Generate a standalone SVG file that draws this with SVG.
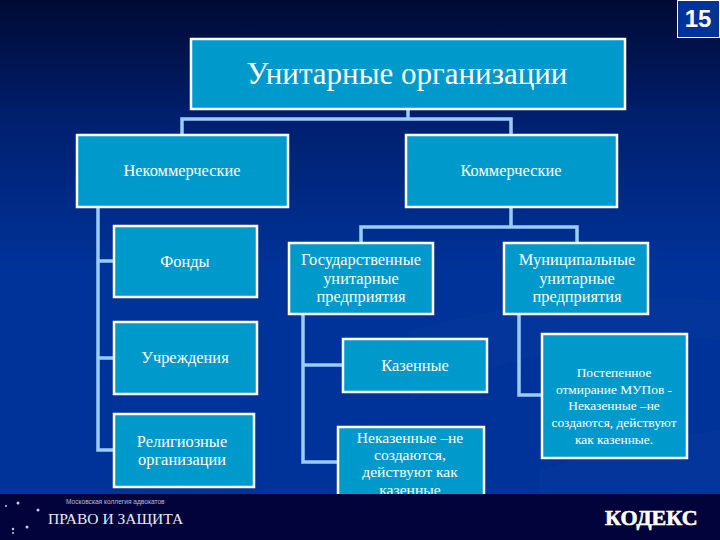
<svg xmlns="http://www.w3.org/2000/svg" width="720" height="540" viewBox="0 0 720 540">
<style>
.box{fill:#0099cc;stroke:#fff;stroke-width:2.5}
.t{font-family:"Liberation Serif","Times New Roman",serif;fill:#fff;text-anchor:middle;font-size:16.4px}
.s{font-size:15.6px}
.xs{font-size:13.4px}
.c{fill:none;stroke:#99ccff;stroke-width:3.5}
.star{fill:#c8cce8}
</style>
<defs>
<linearGradient id="bg" x1="0" y1="0" x2="0" y2="1">
<stop offset="0" stop-color="#000a33"/>
<stop offset="0.22" stop-color="#001f6e"/>
<stop offset="0.5" stop-color="#003399"/>
<stop offset="1" stop-color="#003399"/>
</linearGradient>
</defs>
<rect id="background" width="720" height="540" fill="url(#bg)"/>
<path d="M410 330Q560 290 720 300V340Q560 330 410 400Z" fill="#0a3a9e" opacity="0.3"/>
<path d="M540 470Q640 440 720 430V494H540Z" fill="#0a3a9e" opacity="0.3"/>
<g id="connectors">
<path class="c" d="M408 109V119M182 135V119H511V135"/>
<path class="c" d="M98 207V450H114M98 261H114M98 358H114"/>
<path class="c" d="M511 207V227M361 243V227H577V243"/>
<path class="c" d="M303 314V462H338M303 365H343"/>
<path class="c" d="M519 314V395H542"/>
</g>
<g id="n-top"><rect class="box" x="191" y="39" width="434" height="70"/><text class="t" x="407" y="84" style="font-size:31px">Унитарные организации</text></g>
<g id="n-nonprofit"><rect class="box" x="77" y="135" width="211" height="72"/><text class="t" x="182" y="176">Некоммерческие</text></g>
<g id="n-commercial"><rect class="box" x="406" y="135" width="211" height="72"/><text class="t" x="511" y="176">Коммерческие</text></g>
<g id="n-funds"><rect class="box" x="114" y="226" width="143" height="71"/><text class="t" x="185" y="267">Фонды</text></g>
<g id="n-institutions"><rect class="box" x="114" y="322" width="143" height="72"/><text class="t" x="185" y="363">Учреждения</text></g>
<g id="n-religious"><rect class="box" x="114" y="414" width="140" height="73"/><text class="t" x="182" y="447">Религиозные</text><text class="t" x="182" y="465">организации</text></g>
<g id="n-state"><rect class="box" x="289" y="243" width="144" height="71"/><text class="t" x="361" y="265">Государственные</text><text class="t" x="361" y="284">унитарные</text><text class="t" x="361" y="302">предприятия</text></g>
<g id="n-municipal"><rect class="box" x="504" y="243" width="144" height="71"/><text class="t" x="577" y="265">Муниципальные</text><text class="t" x="577" y="284">унитарные</text><text class="t" x="577" y="302">предприятия</text></g>
<g id="n-treasury"><rect class="box" x="343" y="339" width="144" height="53"/><text class="t" x="415" y="371">Казенные</text></g>
<g id="n-nontreasury"><rect class="box" x="338" y="427" width="146" height="80"/><text class="t s" x="410" y="443">Неказенные –не</text><text class="t s" x="410" y="460">создаются,</text><text class="t s" x="410" y="477">действуют как</text><text class="t s" x="410" y="495">казенные</text></g>
<g id="n-fading"><rect class="box" x="542" y="334" width="145" height="124"/><text class="t xs" x="614" y="377">Постепенное</text><text class="t xs" x="614" y="394">отмирание МУПов -</text><text class="t xs" x="614" y="410">Неказенные –не</text><text class="t xs" x="614" y="427">создаются, действуют</text><text class="t xs" x="614" y="444">как казенные.</text></g>
<g id="footer">
<rect y="494" width="720" height="46" fill="#03033c"/>
<circle class="star" cx="18" cy="503" r="1.5"/><circle class="star" cx="6" cy="506" r="1"/><circle class="star" cx="38" cy="510" r="1.5"/><circle class="star" cx="27" cy="527" r="1.5"/><circle class="star" cx="13" cy="529" r="1.2"/><circle class="star" cx="13" cy="533" r="1"/>
<text x="66" y="504" style="font-family:'Liberation Sans',sans-serif;font-size:6.6px;fill:#b8bcd8">Московская коллегия адвокатов</text>
<text x="48" y="524" style="font-family:'Liberation Serif',serif;font-size:15.5px;fill:#e8eaf4">ПРАВО И ЗАЩИТА</text>
<text x="605" y="525" style="font-family:'Liberation Serif',serif;font-size:22px;font-weight:bold;fill:#fff;stroke:#fff;stroke-width:.6">КОДЕКС</text>
</g>
<g id="page-number"><rect x="677.500" y="0.500" width="42" height="37" fill="#003399" stroke="#fff"/><text x="698" y="27" style="font-family:'Liberation Sans',sans-serif;font-size:24px;font-weight:bold;fill:#fff;text-anchor:middle">15</text></g>
</svg>
